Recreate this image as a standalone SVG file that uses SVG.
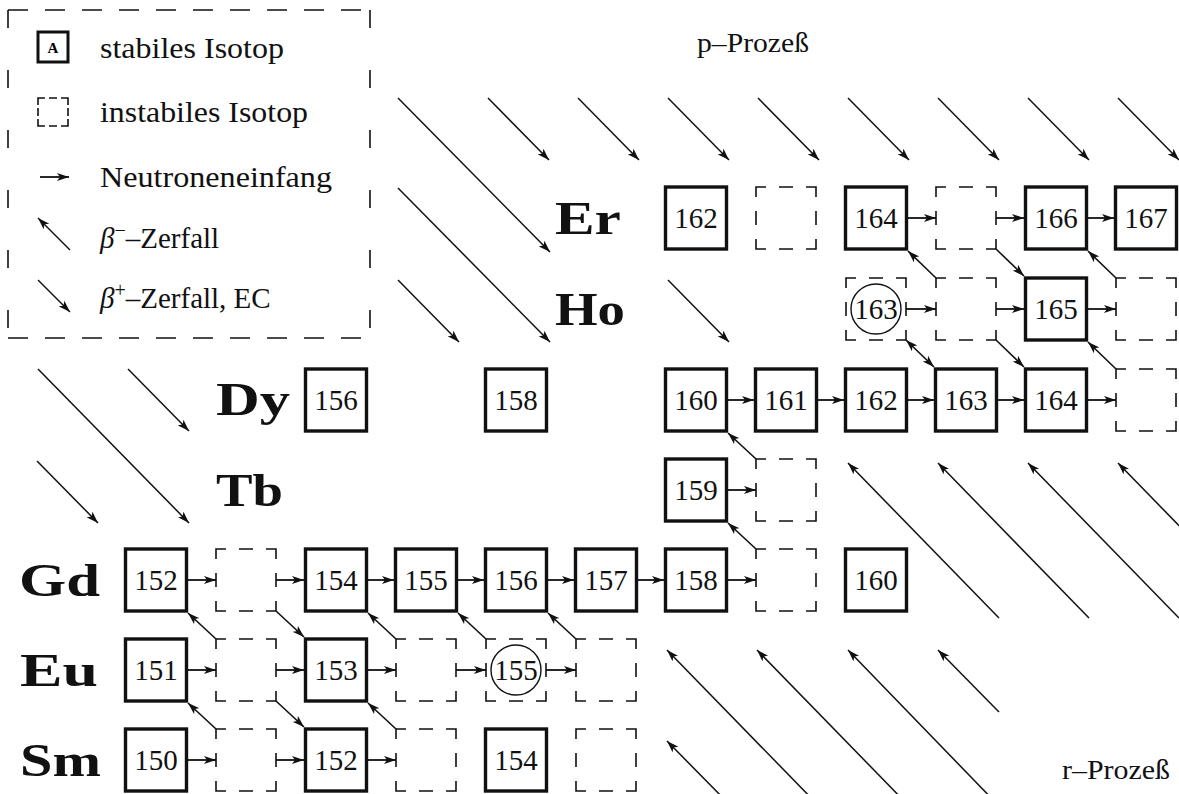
<svg xmlns="http://www.w3.org/2000/svg" xmlns:xlink="http://www.w3.org/1999/xlink" width="1179" height="794" viewBox="0 0 1179 794">
<style>
.sb{fill:#fff;stroke:#111;stroke-width:3.4}
.dp{fill:none;stroke:#111;stroke-width:1.6}
.num{font-family:"Liberation Serif",serif;font-size:29px;text-anchor:middle;fill:#111}
.el{font-family:"Liberation Serif",serif;font-size:47px;font-weight:bold;fill:#111}
.lg{font-family:"Liberation Serif",serif;font-size:29px;fill:#111}
.pr{font-family:"Liberation Serif",serif;font-size:27px;fill:#111}
.ci{fill:none;stroke:#111;stroke-width:1.4}
.h{stroke:#111;stroke-width:1.8;fill:none;marker-end:url(#ah)}
.d{stroke:#111;stroke-width:1.6;fill:none;marker-end:url(#ah)}
.f{stroke:#111;stroke-width:1.5;fill:none;marker-end:url(#ah)}
.fr{stroke:#111;stroke-width:1.5;fill:none;marker-start:url(#as)}
</style>
<defs>
<marker id="ah" viewBox="0 0 12 8" refX="12" refY="4" markerWidth="12" markerHeight="8" markerUnits="userSpaceOnUse" orient="auto"><path d="M0,0 L12,4 L0,8 L3,4 z" fill="#111"/></marker>
<marker id="as" viewBox="0 0 12 8" refX="12" refY="4" markerWidth="12" markerHeight="8" markerUnits="userSpaceOnUse" orient="auto-start-reverse"><path d="M0,0 L12,4 L0,8 L3,4 z" fill="#111"/></marker>
<path id="db" class="dp" d="M-30,-21 V-31 H-20 M20,-31 H30 V-21 M30,21 V31 H20 M-20,31 H-30 V21 M-7,-31 H7 M-7,31 H7 M-30,-7 V7 M30,-7 V7"/>
</defs>
<rect width="1179" height="794" fill="#fff"/>

<g id="legend">
<path d="M8,10 H370" stroke="#111" stroke-width="1.6" stroke-dasharray="20 17"/>
<path d="M8,338 H370" stroke="#111" stroke-width="1.6" stroke-dasharray="20 17"/>
<path d="M8,10 V338" stroke="#111" stroke-width="1.6" stroke-dasharray="18 42"/>
<path d="M370,10 V338" stroke="#111" stroke-width="1.6" stroke-dasharray="18 42"/>
<rect x="38" y="32" width="30" height="30" fill="#fff" stroke="#111" stroke-width="3"/>
<text x="53" y="53" font-family="Liberation Serif,serif" font-size="15" font-weight="bold" text-anchor="middle">A</text>
<text class="lg" x="100" y="58" textLength="184" lengthAdjust="spacingAndGlyphs">stabiles Isotop</text>
<path class="dp" d="M38,105 V98 H45 M61,98 H68 V105 M68,119 V126 H61 M45,126 H38 V119 M49,98 H57 M49,126 H57 M38,108 V116 M68,108 V116"/>
<text class="lg" x="100" y="122" textLength="208" lengthAdjust="spacingAndGlyphs">instabiles Isotop</text>
<line class="h" x1="40" y1="177" x2="69" y2="177"/>
<text class="lg" x="100" y="187" textLength="232" lengthAdjust="spacingAndGlyphs">Neutroneneinfang</text>
<line class="f" x1="70" y1="250" x2="38" y2="218"/>
<text class="lg" x="100" y="248"><tspan font-style="italic">β</tspan><tspan font-size="20" dy="-11">−</tspan><tspan dy="11">–Zerfall</tspan></text>
<line class="f" x1="38" y1="280" x2="70" y2="312"/>
<text class="lg" x="100" y="308"><tspan font-style="italic">β</tspan><tspan font-size="20" dy="-11">+</tspan><tspan dy="11">–Zerfall, EC</tspan></text>
</g>

<g id="process-labels">
<text class="pr" x="697" y="52" textLength="112" lengthAdjust="spacingAndGlyphs">p–Prozeß</text>
<text class="pr" x="1062" y="779" textLength="108" lengthAdjust="spacingAndGlyphs">r–Prozeß</text>
</g>

<g id="element-labels">
<text class="el" x="555" y="234" textLength="66" lengthAdjust="spacingAndGlyphs">Er</text>
<text class="el" x="555" y="325" textLength="70" lengthAdjust="spacingAndGlyphs">Ho</text>
<text class="el" x="216" y="415" textLength="74" lengthAdjust="spacingAndGlyphs">Dy</text>
<text class="el" x="216" y="506" textLength="67" lengthAdjust="spacingAndGlyphs">Tb</text>
<text class="el" x="19" y="596" textLength="81" lengthAdjust="spacingAndGlyphs">Gd</text>
<text class="el" x="20" y="686" textLength="78" lengthAdjust="spacingAndGlyphs">Eu</text>
<text class="el" x="20" y="776" textLength="81" lengthAdjust="spacingAndGlyphs">Sm</text>
</g>

<g id="field-arrows">
<line class="f" x1="398" y1="98" x2="550" y2="252"/>
<line class="f" x1="488" y1="98" x2="549" y2="160"/>
<line class="f" x1="578" y1="98" x2="639" y2="160"/>
<line class="f" x1="668" y1="98" x2="729" y2="160"/>
<line class="f" x1="758" y1="98" x2="819" y2="160"/>
<line class="f" x1="848" y1="98" x2="909" y2="160"/>
<line class="f" x1="938" y1="98" x2="999" y2="160"/>
<line class="f" x1="1028" y1="98" x2="1089" y2="160"/>
<line class="f" x1="1118" y1="98" x2="1179" y2="160"/>
<line class="f" x1="398" y1="188" x2="550" y2="342"/>
<line class="f" x1="398" y1="280" x2="459" y2="342"/>
<line class="f" x1="668" y1="280" x2="729" y2="342"/>
<line class="f" x1="38" y1="369" x2="189" y2="523"/>
<line class="f" x1="128" y1="369" x2="189" y2="431"/>
<line class="f" x1="37" y1="461" x2="98" y2="523"/>
<line class="fr" x1="848" y1="463" x2="999" y2="618"/>
<line class="fr" x1="938" y1="463" x2="1089" y2="618"/>
<line class="fr" x1="1028" y1="463" x2="1179" y2="618"/>
<line class="fr" x1="1118" y1="463" x2="1269" y2="618"/>
<line class="fr" x1="667" y1="650" x2="819" y2="806"/>
<line class="fr" x1="757" y1="650" x2="909" y2="806"/>
<line class="fr" x1="848" y1="650" x2="999" y2="806"/>
<line class="fr" x1="938" y1="650" x2="999" y2="712"/>
<line class="fr" x1="667" y1="741" x2="728" y2="803"/>
</g>

<g id="Er162"><rect class="sb" x="665.5" y="187" width="61" height="62"/><text class="num" x="696" y="228">162</text></g>
<g id="Er163"><use xlink:href="#db" href="#db" x="786" y="218"/></g>
<g id="Er164"><rect class="sb" x="845.5" y="187" width="61" height="62"/><text class="num" x="876" y="228">164</text></g>
<g id="Er165"><use xlink:href="#db" href="#db" x="966" y="218"/></g>
<g id="Er166"><rect class="sb" x="1025.5" y="187" width="61" height="62"/><text class="num" x="1056" y="228">166</text></g>
<g id="Er167"><rect class="sb" x="1115.5" y="187" width="61" height="62"/><text class="num" x="1146" y="228">167</text></g>

<g id="Ho163"><use xlink:href="#db" href="#db" x="876" y="309"/><circle class="ci" cx="876" cy="309" r="25"/><text class="num" x="876" y="319">163</text></g>
<g id="Ho164"><use xlink:href="#db" href="#db" x="966" y="309"/></g>
<g id="Ho165"><rect class="sb" x="1025.5" y="278" width="61" height="62"/><text class="num" x="1056" y="319">165</text></g>
<g id="Ho166"><use xlink:href="#db" href="#db" x="1146" y="309"/></g>

<g id="Dy156"><rect class="sb" x="305.5" y="369" width="61" height="62"/><text class="num" x="336" y="410">156</text></g>
<g id="Dy158"><rect class="sb" x="485.5" y="369" width="61" height="62"/><text class="num" x="516" y="410">158</text></g>
<g id="Dy160"><rect class="sb" x="665.5" y="369" width="61" height="62"/><text class="num" x="696" y="410">160</text></g>
<g id="Dy161"><rect class="sb" x="755.5" y="369" width="61" height="62"/><text class="num" x="786" y="410">161</text></g>
<g id="Dy162"><rect class="sb" x="845.5" y="369" width="61" height="62"/><text class="num" x="876" y="410">162</text></g>
<g id="Dy163"><rect class="sb" x="935.5" y="369" width="61" height="62"/><text class="num" x="966" y="410">163</text></g>
<g id="Dy164"><rect class="sb" x="1025.5" y="369" width="61" height="62"/><text class="num" x="1056" y="410">164</text></g>
<g id="Dy165"><use xlink:href="#db" href="#db" x="1146" y="400"/></g>

<g id="Tb159"><rect class="sb" x="665.5" y="459" width="61" height="62"/><text class="num" x="696" y="500">159</text></g>
<g id="Tb160"><use xlink:href="#db" href="#db" x="786" y="490"/></g>

<g id="Gd152"><rect class="sb" x="125.5" y="549" width="61" height="62"/><text class="num" x="156" y="590">152</text></g>
<g id="Gd153"><use xlink:href="#db" href="#db" x="246" y="580"/></g>
<g id="Gd154"><rect class="sb" x="305.5" y="549" width="61" height="62"/><text class="num" x="336" y="590">154</text></g>
<g id="Gd155"><rect class="sb" x="395.5" y="549" width="61" height="62"/><text class="num" x="426" y="590">155</text></g>
<g id="Gd156"><rect class="sb" x="485.5" y="549" width="61" height="62"/><text class="num" x="516" y="590">156</text></g>
<g id="Gd157"><rect class="sb" x="575.5" y="549" width="61" height="62"/><text class="num" x="606" y="590">157</text></g>
<g id="Gd158"><rect class="sb" x="665.5" y="549" width="61" height="62"/><text class="num" x="696" y="590">158</text></g>
<g id="Gd159"><use xlink:href="#db" href="#db" x="786" y="580"/></g>
<g id="Gd160"><rect class="sb" x="845.5" y="549" width="61" height="62"/><text class="num" x="876" y="590">160</text></g>

<g id="Eu151"><rect class="sb" x="125.5" y="639" width="61" height="62"/><text class="num" x="156" y="680">151</text></g>
<g id="Eu152"><use xlink:href="#db" href="#db" x="246" y="670"/></g>
<g id="Eu153"><rect class="sb" x="305.5" y="639" width="61" height="62"/><text class="num" x="336" y="680">153</text></g>
<g id="Eu154"><use xlink:href="#db" href="#db" x="426" y="670"/></g>
<g id="Eu155"><use xlink:href="#db" href="#db" x="516" y="670"/><circle class="ci" cx="516" cy="670" r="25"/><text class="num" x="516" y="680">155</text></g>
<g id="Eu156"><use xlink:href="#db" href="#db" x="606" y="670"/></g>

<g id="Sm150"><rect class="sb" x="125.5" y="729" width="61" height="62"/><text class="num" x="156" y="770">150</text></g>
<g id="Sm151"><use xlink:href="#db" href="#db" x="246" y="760"/></g>
<g id="Sm152"><rect class="sb" x="305.5" y="729" width="61" height="62"/><text class="num" x="336" y="770">152</text></g>
<g id="Sm153"><use xlink:href="#db" href="#db" x="426" y="760"/></g>
<g id="Sm154"><rect class="sb" x="485.5" y="729" width="61" height="62"/><text class="num" x="516" y="770">154</text></g>
<g id="Sm155"><use xlink:href="#db" href="#db" x="606" y="760"/></g>

<g id="connectors">
<line class="h" x1="908" y1="218" x2="936" y2="218"/>
<line class="h" x1="996" y1="218" x2="1024" y2="218"/>
<line class="h" x1="1088" y1="218" x2="1114" y2="218"/>
<line class="h" x1="906" y1="309" x2="936" y2="309"/>
<line class="h" x1="996" y1="309" x2="1024" y2="309"/>
<line class="h" x1="1088" y1="309" x2="1116" y2="309"/>
<line class="h" x1="728" y1="400" x2="754" y2="400"/>
<line class="h" x1="818" y1="400" x2="844" y2="400"/>
<line class="h" x1="908" y1="400" x2="934" y2="400"/>
<line class="h" x1="998" y1="400" x2="1024" y2="400"/>
<line class="h" x1="1088" y1="400" x2="1116" y2="400"/>
<line class="h" x1="728" y1="490" x2="756" y2="490"/>
<line class="h" x1="188" y1="580" x2="216" y2="580"/>
<line class="h" x1="276" y1="580" x2="304" y2="580"/>
<line class="h" x1="368" y1="580" x2="394" y2="580"/>
<line class="h" x1="458" y1="580" x2="484" y2="580"/>
<line class="h" x1="548" y1="580" x2="574" y2="580"/>
<line class="h" x1="638" y1="580" x2="664" y2="580"/>
<line class="h" x1="728" y1="580" x2="756" y2="580"/>
<line class="h" x1="188" y1="670" x2="216" y2="670"/>
<line class="h" x1="276" y1="670" x2="304" y2="670"/>
<line class="h" x1="368" y1="670" x2="396" y2="670"/>
<line class="h" x1="456" y1="670" x2="486" y2="670"/>
<line class="h" x1="546" y1="670" x2="576" y2="670"/>
<line class="h" x1="188" y1="760" x2="216" y2="760"/>
<line class="h" x1="276" y1="760" x2="304" y2="760"/>
<line class="h" x1="368" y1="760" x2="396" y2="760"/>
<line class="d" x1="276" y1="611" x2="304" y2="637"/>
<line class="d" x1="216" y1="639" x2="188" y2="613"/>
<line class="d" x1="276" y1="701" x2="304" y2="727"/>
<line class="d" x1="216" y1="729" x2="188" y2="703"/>
<line class="d" x1="396" y1="729" x2="368" y2="703"/>
<line class="d" x1="396" y1="639" x2="368" y2="613"/>
<line class="d" x1="486" y1="639" x2="458" y2="613"/>
<line class="d" x1="576" y1="639" x2="548" y2="613"/>
<line class="d" x1="756" y1="549" x2="728" y2="523"/>
<line class="d" x1="756" y1="459" x2="728" y2="433"/>
<line class="d" x1="906" y1="340" x2="934" y2="367" marker-start="url(#as)"/>
<line class="d" x1="936" y1="278" x2="908" y2="251"/>
<line class="d" x1="996" y1="340" x2="1024" y2="367"/>
<line class="d" x1="996" y1="249" x2="1024" y2="276"/>
<line class="d" x1="1116" y1="278" x2="1088" y2="251"/>
<line class="d" x1="1116" y1="369" x2="1088" y2="342"/>
</g>
</svg>
